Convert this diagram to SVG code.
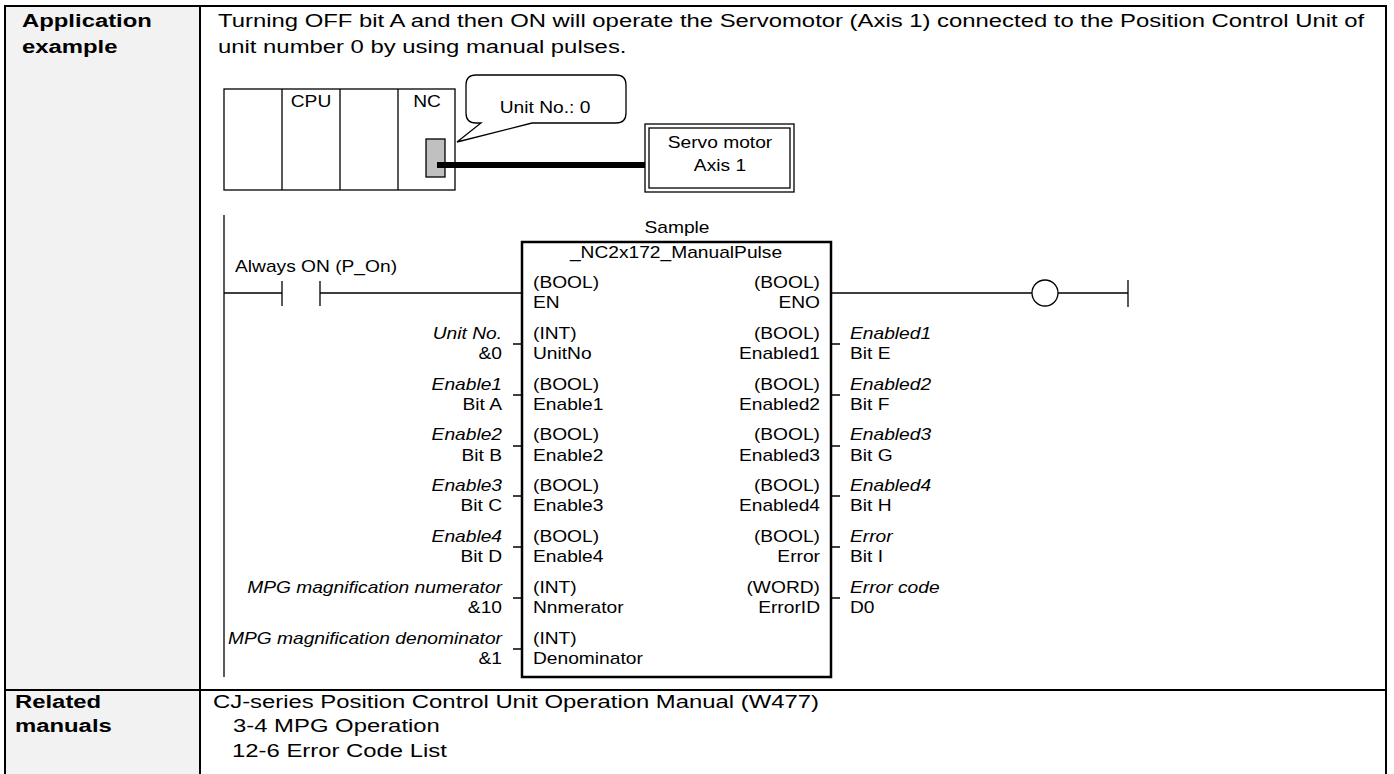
<svg xmlns="http://www.w3.org/2000/svg" width="1394" height="774" viewBox="0 0 1394 774">
<style>
text{font-family:"Liberation Sans",Arial,sans-serif;fill:#000}
.t{font-size:18.5px}
.b{font-weight:bold}
.d{font-size:16px}
.i{font-style:italic}
.e{text-anchor:end}
.m{text-anchor:middle}
.frame{stroke:#000;stroke-width:2;fill:none}
.thin{stroke:#000;stroke-width:1.3;fill:none}
</style>
<rect x="5" y="6" width="195" height="770" fill="#f2f2f2"/>
<g id="table" class="frame">
<path d="M5,776 V6 H1386 V776"/>
<path d="M200,6 V776"/>
<path d="M5,690 H1386"/>
</g>
<g id="headers">
<text class="t b" transform="matrix(1.29 0 0 1 22 27)">Application</text>
<text class="t b" transform="matrix(1.29 0 0 1 22 53)">example</text>
<text class="t b" transform="matrix(1.29 0 0 1 15 708)">Related</text>
<text class="t b" transform="matrix(1.29 0 0 1 15 732)">manuals</text>
</g>
<g id="description">
<text class="t" transform="matrix(1.29 0 0 1 218 27)">Turning OFF bit A and then ON will operate the Servomotor (Axis 1) connected to the Position Control Unit of</text>
<text class="t" transform="matrix(1.29 0 0 1 218 53)">unit number 0 by using manual pulses.</text>
</g>
<g id="manuals">
<text class="t" transform="matrix(1.29 0 0 1 213 708)">CJ-series Position Control Unit Operation Manual (W477)</text>
<text class="t" transform="matrix(1.29 0 0 1 233 732)">3-4 MPG Operation</text>
<text class="t" transform="matrix(1.29 0 0 1 232 757)">12-6 Error Code List</text>
</g>
<g id="plc-rack">
<rect class="thin" x="224" y="89" width="231" height="101"/>
<path class="thin" d="M282,89 V190 M340,89 V190 M398,89 V190"/>
<text class="d m" transform="matrix(1.2 0 0 1 311 107)">CPU</text>
<text class="d m" transform="matrix(1.2 0 0 1 427 107)">NC</text>
<rect x="426" y="139" width="19" height="38" fill="#c0c0c0" stroke="#000" stroke-width="1.3"/>
</g>
<g id="callout">
<path class="thin" fill="#fff" d="M476,75 H616 Q626,75 626,85 V113 Q626,123 616,123 H532 L457,142 L481,123 H476 Q466,123 466,113 V85 Q466,75 476,75 Z"/>
<text class="d m" transform="matrix(1.2 0 0 1 545 113)">Unit No.: 0</text>
</g>
<g id="servo">
<rect class="thin" x="645" y="124" width="149" height="68"/>
<rect class="thin" x="649" y="128" width="141" height="60"/>
<text class="d m" transform="matrix(1.2 0 0 1 720 148)">Servo motor</text>
<text class="d m" transform="matrix(1.2 0 0 1 720 171)">Axis 1</text>
</g>
<g id="connectors">
<path d="M437,165 H645" stroke="#000" stroke-width="6" fill="none"/>
<path class="thin" d="M224,215 V677"/>
<path class="thin" d="M224,293 H282 M282,281 V306 M320,281 V306 M320,293 H522"/>
<path class="thin" d="M831,293 H1032 M1058,293 H1128 M1128,280 V307"/>
<circle class="thin" cx="1045" cy="293" r="13"/>
<path class="thin" d="M513,344 H522 M513,395 H522 M513,446 H522 M513,496 H522 M513,547 H522 M513,598 H522 M513,649 H522"/>
<path class="thin" d="M831,344 H840 M831,395 H840 M831,446 H840 M831,496 H840 M831,547 H840 M831,598 H840"/>
</g>
<text class="d" transform="matrix(1.2 0 0 1 235 272)">Always ON (P_On)</text>
<g id="function-block">
<text class="d m" transform="matrix(1.2 0 0 1 677 233)">Sample</text>
<rect x="522" y="242" width="309" height="435" fill="#fff" stroke="#000" stroke-width="2.5"/>
<text class="d m" transform="matrix(1.2 0 0 1 676 258)">_NC2x172_ManualPulse</text>
<text class="d" transform="matrix(1.2 0 0 1 533 288)">(BOOL)</text>
<text class="d" transform="matrix(1.2 0 0 1 533 308)">EN</text>
<text class="d" transform="matrix(1.2 0 0 1 533 339)">(INT)</text>
<text class="d" transform="matrix(1.2 0 0 1 533 359)">UnitNo</text>
<text class="d" transform="matrix(1.2 0 0 1 533 390)">(BOOL)</text>
<text class="d" transform="matrix(1.2 0 0 1 533 410)">Enable1</text>
<text class="d" transform="matrix(1.2 0 0 1 533 440)">(BOOL)</text>
<text class="d" transform="matrix(1.2 0 0 1 533 461)">Enable2</text>
<text class="d" transform="matrix(1.2 0 0 1 533 491)">(BOOL)</text>
<text class="d" transform="matrix(1.2 0 0 1 533 511)">Enable3</text>
<text class="d" transform="matrix(1.2 0 0 1 533 542)">(BOOL)</text>
<text class="d" transform="matrix(1.2 0 0 1 533 562)">Enable4</text>
<text class="d" transform="matrix(1.2 0 0 1 533 593)">(INT)</text>
<text class="d" transform="matrix(1.2 0 0 1 533 613)">Nnmerator</text>
<text class="d" transform="matrix(1.2 0 0 1 533 644)">(INT)</text>
<text class="d" transform="matrix(1.2 0 0 1 533 664)">Denominator</text>
<text class="d e" transform="matrix(1.2 0 0 1 820 288)">(BOOL)</text>
<text class="d e" transform="matrix(1.2 0 0 1 820 308)">ENO</text>
<text class="d e" transform="matrix(1.2 0 0 1 820 339)">(BOOL)</text>
<text class="d e" transform="matrix(1.2 0 0 1 820 359)">Enabled1</text>
<text class="d e" transform="matrix(1.2 0 0 1 820 390)">(BOOL)</text>
<text class="d e" transform="matrix(1.2 0 0 1 820 410)">Enabled2</text>
<text class="d e" transform="matrix(1.2 0 0 1 820 440)">(BOOL)</text>
<text class="d e" transform="matrix(1.2 0 0 1 820 461)">Enabled3</text>
<text class="d e" transform="matrix(1.2 0 0 1 820 491)">(BOOL)</text>
<text class="d e" transform="matrix(1.2 0 0 1 820 511)">Enabled4</text>
<text class="d e" transform="matrix(1.2 0 0 1 820 542)">(BOOL)</text>
<text class="d e" transform="matrix(1.2 0 0 1 820 562)">Error</text>
<text class="d e" transform="matrix(1.2 0 0 1 820 593)">(WORD)</text>
<text class="d e" transform="matrix(1.2 0 0 1 820 613)">ErrorID</text>
</g>
<g id="inputs">
<text class="d e i" transform="matrix(1.2 0 0 1 502 339)">Unit No.</text>
<text class="d e" transform="matrix(1.2 0 0 1 502 359)">&amp;0</text>
<text class="d e i" transform="matrix(1.2 0 0 1 502 390)">Enable1</text>
<text class="d e" transform="matrix(1.2 0 0 1 502 410)">Bit A</text>
<text class="d e i" transform="matrix(1.2 0 0 1 502 440)">Enable2</text>
<text class="d e" transform="matrix(1.2 0 0 1 502 461)">Bit B</text>
<text class="d e i" transform="matrix(1.2 0 0 1 502 491)">Enable3</text>
<text class="d e" transform="matrix(1.2 0 0 1 502 511)">Bit C</text>
<text class="d e i" transform="matrix(1.2 0 0 1 502 542)">Enable4</text>
<text class="d e" transform="matrix(1.2 0 0 1 502 562)">Bit D</text>
<text class="d e i" transform="matrix(1.2 0 0 1 502 593)">MPG magnification numerator</text>
<text class="d e" transform="matrix(1.2 0 0 1 502 613)">&amp;10</text>
<text class="d e i" transform="matrix(1.2 0 0 1 502 644)">MPG magnification denominator</text>
<text class="d e" transform="matrix(1.2 0 0 1 502 664)">&amp;1</text>
</g>
<g id="outputs">
<text class="d i" transform="matrix(1.2 0 0 1 850 339)">Enabled1</text>
<text class="d" transform="matrix(1.2 0 0 1 850 359)">Bit E</text>
<text class="d i" transform="matrix(1.2 0 0 1 850 390)">Enabled2</text>
<text class="d" transform="matrix(1.2 0 0 1 850 410)">Bit F</text>
<text class="d i" transform="matrix(1.2 0 0 1 850 440)">Enabled3</text>
<text class="d" transform="matrix(1.2 0 0 1 850 461)">Bit G</text>
<text class="d i" transform="matrix(1.2 0 0 1 850 491)">Enabled4</text>
<text class="d" transform="matrix(1.2 0 0 1 850 511)">Bit H</text>
<text class="d i" transform="matrix(1.2 0 0 1 850 542)">Error</text>
<text class="d" transform="matrix(1.2 0 0 1 850 562)">Bit I</text>
<text class="d i" transform="matrix(1.2 0 0 1 850 593)">Error code</text>
<text class="d" transform="matrix(1.2 0 0 1 850 613)">D0</text>
</g>
</svg>
